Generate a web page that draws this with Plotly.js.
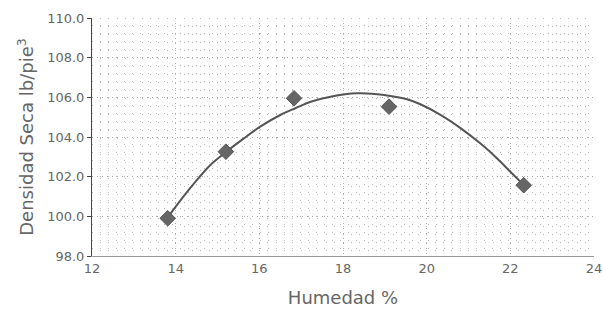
<!DOCTYPE html>
<html>
<head>
<meta charset="utf-8">
<script src="https://cdn.plot.ly/plotly-3.0.1.min.js"></script>
<style>html,body{margin:0;padding:0;background:#fff;}#chart{width:603px;height:328px;}</style>
</head>
<body>
<div id="chart"></div>
<script>
// Measured points
const humedad = [13.81, 15.2, 16.83, 19.1, 22.32];
const densidad = [99.9, 103.26, 105.95, 105.53, 101.57];
// Trend curve
const curveX = [13.79, 14.12, 14.44, 14.83, 15.19, 15.63, 16.02, 16.5, 16.86, 17.23, 17.7, 18.34, 18.98, 19.53, 19.85, 20.33, 20.81, 21.28, 21.68, 22.0, 22.28];
const curveY = [99.89, 100.82, 101.66, 102.59, 103.22, 103.93, 104.52, 105.11, 105.45, 105.78, 106.03, 106.2, 106.12, 105.9, 105.65, 105.12, 104.45, 103.68, 102.93, 102.25, 101.66];
const xTicks = [12, 14, 16, 18, 20, 22, 24];
const yTicks = [98, 100, 102, 104, 106, 108, 110];

const fam = 'DejaVu Sans, Arial, sans-serif';
const font = {family: fam, color: '#666'};

Plotly.newPlot('chart', [
  {x: curveX, y: curveY, mode: 'lines', line: {color: '#555', width: 2, shape: 'spline', smoothing: 1}, hoverinfo: 'skip'},
  {x: humedad, y: densidad, mode: 'markers', marker: {symbol: 'diamond', size: 12, color: '#666', line: {color: '#555', width: 1}}}
], {
  width: 603, height: 328,
  margin: {l: 92, r: 9, t: 18, b: 72},
  showlegend: false,
  paper_bgcolor: '#fff', plot_bgcolor: '#fff',
  font: Object.assign({size: 13}, font),
  xaxis: {
    range: [12, 24], tickvals: xTicks, ticktext: xTicks.map(String),
    showgrid: true, gridcolor: '#aaa', griddash: '1px,4px', gridwidth: 1,
    minor: {tickmode: 'linear', tick0: 12, dtick: 0.2, showgrid: true, gridcolor: '#bbb', griddash: '1px,7px', gridwidth: 1},
    showline: true, linecolor: '#999', linewidth: 1,
    ticks: '', zeroline: false,
    tickfont: Object.assign({size: 13}, font),
    title: {text: 'Humedad %', font: Object.assign({size: 18}, font), standoff: 16}
  },
  yaxis: {
    range: [98, 110], tickvals: yTicks, ticktext: yTicks.map(v => v.toFixed(1)),
    showgrid: true, gridcolor: '#aaa', griddash: '1px,4px', gridwidth: 1,
    minor: {tickmode: 'linear', tick0: 98, dtick: 0.4, showgrid: true, gridcolor: '#bbb', griddash: '1px,7px', gridwidth: 1},
    showline: true, linecolor: '#444', linewidth: 1,
    ticks: 'outside', ticklen: 4, tickcolor: '#444', zeroline: false,
    tickfont: Object.assign({size: 13}, font),
    title: {text: 'Densidad Seca lb/pie<sup>3</sup>', font: Object.assign({size: 18}, font), standoff: 8}
  }
}, {staticPlot: true});
</script>
</body>
</html>
